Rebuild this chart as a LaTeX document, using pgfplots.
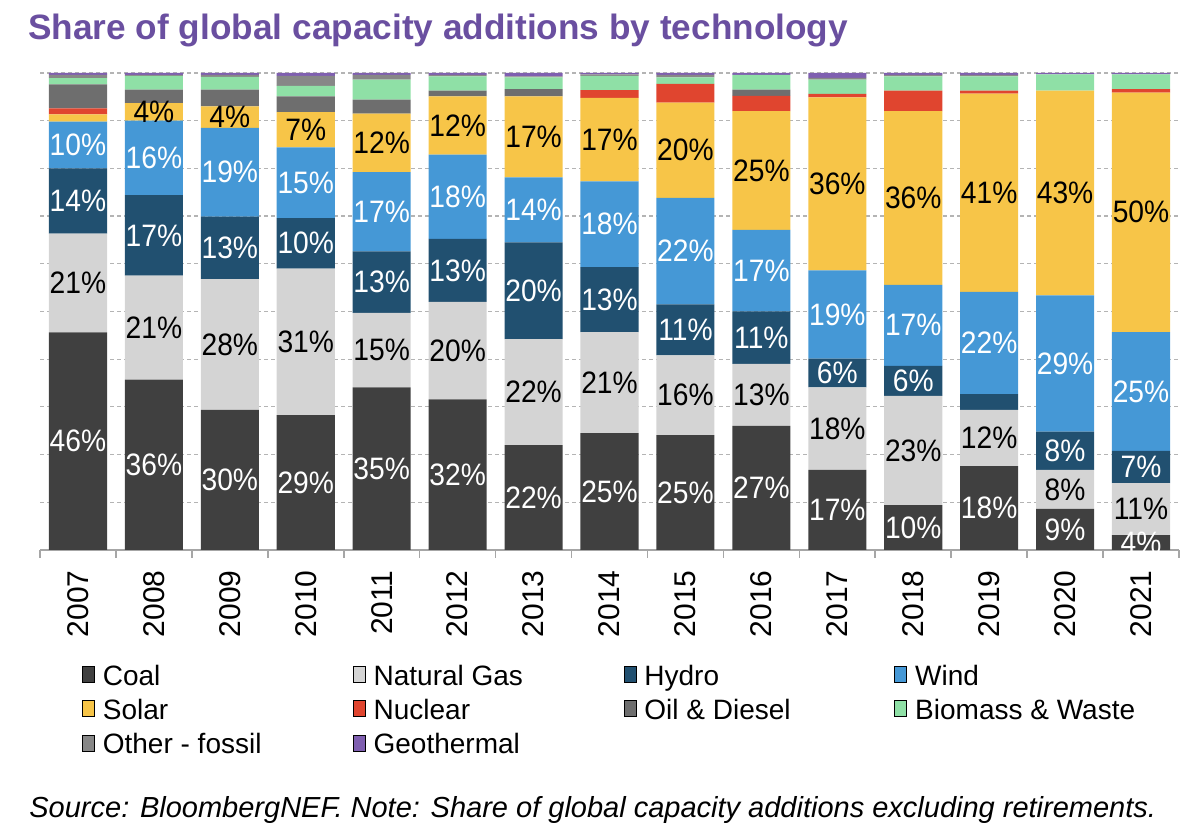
\documentclass[border=0pt]{standalone}
\usepackage{pgfplots}
\pgfplotsset{compat=1.18}
\usepackage{pgfplotstable}
\usepackage{fontspec}
\setmainfont{Liberation Sans}
\newfontfamily\lblfont{Liberation Sans}[FakeStretch=0.91]
\definecolor{cCoal}{HTML}{404040}
\definecolor{cGas}{HTML}{D4D4D4}
\definecolor{cHydro}{HTML}{215070}
\definecolor{cWind}{HTML}{4598D6}
\definecolor{cSolar}{HTML}{F7C548}
\definecolor{cNuc}{HTML}{E0452F}
\definecolor{cOil}{HTML}{6E6E6E}
\definecolor{cBio}{HTML}{8FE0A6}
\definecolor{cOther}{HTML}{878787}
\definecolor{cGeo}{HTML}{7F5FB0}
\definecolor{cTitle}{HTML}{6A4FA0}
\definecolor{cAxis}{HTML}{A6A6A6}
\definecolor{cGrid}{HTML}{B4B4B4}

\pgfplotstableread{
x coal coalL gas gasL hydro hydroL wind windL solar solarL nuclear oil biomass other geo
0 45.6 46\% 20.7 21\% 13.7 14\% 9.8 10\% 1.5 {} 1.3 5.0 1.3 0.7 0.4
1 35.7 36\% 21.8 21\% 16.9 17\% 15.6 16\% 3.7 4\% 0 2.8 2.9 0.2 0.4
2 29.4 30\% 27.4 28\% 13.1 13\% 18.6 19\% 4.5 4\% 0 3.5 2.7 0.4 0.4
3 28.3 29\% 30.7 31\% 10.6 10\% 14.8 15\% 7.4 7\% 0 3.3 2.2 2.1 0.6
4 34.1 35\% 15.6 15\% 12.9 13\% 16.6 17\% 12.3 12\% 0 2.9 4.2 1.0 0.4
5 31.6 32\% 20.4 20\% 13.2 13\% 17.7 18\% 12.2 12\% 0 1.2 3.0 0.3 0.4
6 22.0 22\% 22.2 22\% 20.3 20\% 13.6 14\% 17.0 17\% 0 1.5 2.5 0.2 0.7
7 24.5 25\% 21.2 21\% 13.6 13\% 18.0 18\% 17.5 17\% 1.6 0 3.0 0.3 0.3
8 24.1 25\% 16.7 16\% 10.7 11\% 22.3 22\% 20.0 20\% 3.9 0 1.4 0.5 0.4
9 26.0 27\% 13.0 13\% 11.0 11\% 17.1 17\% 24.9 25\% 3.2 1.3 3.1 0 0.4
10 16.8 17\% 17.3 18\% 6.0 6\% 18.5 19\% 36.3 36\% 0.7 0 3.0 0.4 1.0
11 9.4 10\% 22.9 23\% 6.3 6\% 17.0 17\% 36.4 36\% 4.3 0 3.0 0.3 0.4
12 17.6 18\% 11.8 12\% 3.3 {} 21.4 22\% 41.6 41\% 0.6 0 3.0 0.3 0.4
13 8.6 9\% 8.2 8\% 8.0 8\% 28.6 29\% 42.9 43\% 0 0 3.4 0 0.3
14 3.1 4\% 10.9 11\% 6.8 7\% 24.9 25\% 50.2 50\% 0.7 0 3.1 0 0.3
}\datatable

\pgfplotsset{
  lbl/.style={nodes near coords, point meta=explicit symbolic,
    every node near coord/.append style={text=#1, anchor=center, inner sep=0pt,
      font=\lblfont\fontsize{15.5}{15.5}\selectfont}},
}

\begin{document}
\begin{tikzpicture}
\useasboundingbox (0,0) rectangle (600pt,415pt);
\begin{axis}[
  at={(20pt,140pt)}, anchor=south west,
  scale only axis, width=569.5pt, height=238.5pt,
  ybar stacked, bar width=0.765,
  xmin=-0.5, xmax=14.5, ymin=0, ymax=100,
  clip=false,
  axis x line*=bottom, axis y line*=left,
  x axis line style={draw=cAxis, line width=0.8pt, -},
  y axis line style={draw=none},
  ytick={10,20,...,100}, yticklabels={},
  major y tick style={draw=none},
  ymajorgrids, grid style={draw=cGrid, line width=0.6pt, dash pattern=on 2pt off 1.5pt},
  xtick={0,...,14},
  xticklabels={2007,2008,2009,2010,2011,2012,2013,2014,2015,2016,2017,2018,2019,2020,2021},
  major x tick style={draw=none},
  tick align=outside, major tick length=4pt,
  xticklabel style={rotate=90, anchor=east, inner sep=0pt, font=\fontsize{15}{15}\selectfont},
  xticklabel shift=6pt,
  extra x ticks={-0.5,0.5,...,14.5}, extra x tick labels={},
  extra x tick style={major x tick style={draw=cAxis, line width=0.8pt}, xmajorgrids=false},
  ybar legend/.style={legend image code/.code={\fill[##1] (0pt,2pt) rectangle (7pt,9pt);}},
  legend columns=4,
  legend style={at={(0.0369,-0.2415)}, anchor=north west, draw=none, fill=none,
    inner sep=0pt, outer sep=0pt, row sep=4.2pt, column sep=0pt,
    font=\fontsize{14}{14}\selectfont,
    nodes={inner xsep=4pt, inner ysep=0pt, text height=10pt, text depth=3pt}},
  legend cell align=left,
]
\addplot[fill=cCoal, draw=none, lbl=white] table[x=x, y=coal, meta=coalL]{\datatable};
\addlegendentry{\makebox[121pt][l]{Coal}}
\addplot[fill=cGas, draw=none, lbl=black] table[x=x, y=gas, meta=gasL]{\datatable};
\addlegendentry{\makebox[121pt][l]{Natural Gas}}
\addplot[fill=cHydro, draw=none, lbl=white] table[x=x, y=hydro, meta=hydroL]{\datatable};
\addlegendentry{\makebox[121pt][l]{Hydro}}
\addplot[fill=cWind, draw=none, lbl=white] table[x=x, y=wind, meta=windL]{\datatable};
\addlegendentry{\makebox[121pt][l]{Wind}}
\addplot[fill=cSolar, draw=none, lbl=black] table[x=x, y=solar, meta=solarL]{\datatable};
\addlegendentry{\makebox[121pt][l]{Solar}}
\addplot[fill=cNuc, draw=none] table[x=x, y=nuclear]{\datatable};
\addlegendentry{\makebox[121pt][l]{Nuclear}}
\addplot[fill=cOil, draw=none] table[x=x, y=oil]{\datatable};
\addlegendentry{\makebox[121pt][l]{Oil \& Diesel}}
\addplot[fill=cBio, draw=none] table[x=x, y=biomass]{\datatable};
\addlegendentry{\makebox[121pt][l]{Biomass \& Waste}}
\addplot[fill=cOther, draw=none] table[x=x, y=other]{\datatable};
\addlegendentry{\makebox[121pt][l]{Other - fossil}}
\addplot[fill=cGeo, draw=none] table[x=x, y=geo]{\datatable};
\addlegendentry{\makebox[121pt][l]{Geothermal}}
\end{axis}
\node[anchor=base west, inner sep=0pt, text=cTitle, font=\bfseries\fontsize{17.6}{17.6}\selectfont] at (14pt,395pt) {Share of global capacity additions by technology};
\node[anchor=base west, inner sep=0pt, font=\itshape\fontsize{14.5}{14.5}\selectfont] at (14.5pt,6pt) {Source: BloombergNEF. Note: Share of global capacity additions excluding retirements.};
\end{tikzpicture}
\end{document}
